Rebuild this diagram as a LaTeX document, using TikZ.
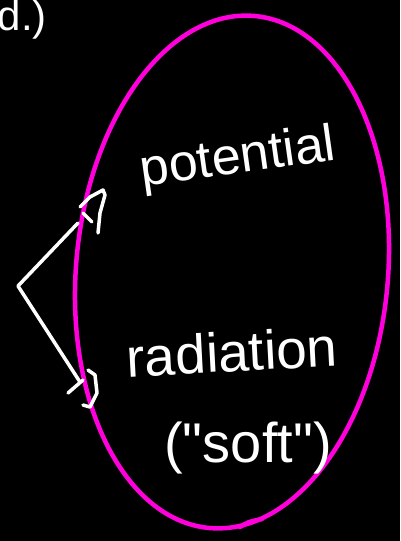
\documentclass[tikz,border=0pt]{standalone}
\usepackage{fontspec}
\setmainfont{Liberation Sans}
\definecolor{pinkline}{RGB}{255,0,220}
\begin{document}
\begin{tikzpicture}[x=1pt,y=-1pt,
  ink/.style={draw=white,line width=3.5pt,line cap=round,line join=round},
  hand/.style={text=white,inner sep=0pt,font=\fontsize{50}{50}\selectfont}]
\fill[black] (0,0) rectangle (400,541);
\useasboundingbox (0,0) rectangle (400,541);
% magenta ellipse
\draw[pinkline,line width=4.5pt,rotate around={-5:(232,272)}] (232,272) ellipse [x radius=156, y radius=257];
\draw[pinkline,line width=4.5pt,line cap=round] (240,527) .. controls (248,522) .. (262,519);
% texts
\node[hand,anchor=east] (d) at (47,20) {\fontsize{42}{42}\selectfont d.)};
\node[hand,rotate=8,font=\fontsize{52}{52}\selectfont] (pot) at (238,160) {potential};
\node[hand,rotate=3,font=\fontsize{55}{55}\selectfont] (rad) at (232,352) {radiation};
\node[hand,font=\fontsize{56}{56}\selectfont] (soft) at (248,448) {(\textquotedbl soft\textquotedbl)};
% branch
\coordinate (v) at (18,286);
\coordinate (u) at (78,223);
\coordinate (l) at (80,382);
\draw[ink] (u) -- (v) -- (l);
\draw[ink] (80,207) -- (90,197) -- (103,190) -- (105,195) -- (100,213) -- (98,233);
\draw[ink] (83,213) -- (92,222);
\draw[ink] (68,393) -- (83,380);
\draw[ink] (88,370) -- (95,375) -- (97,393) -- (90,407) -- (83,405);
\end{tikzpicture}
\end{document}
